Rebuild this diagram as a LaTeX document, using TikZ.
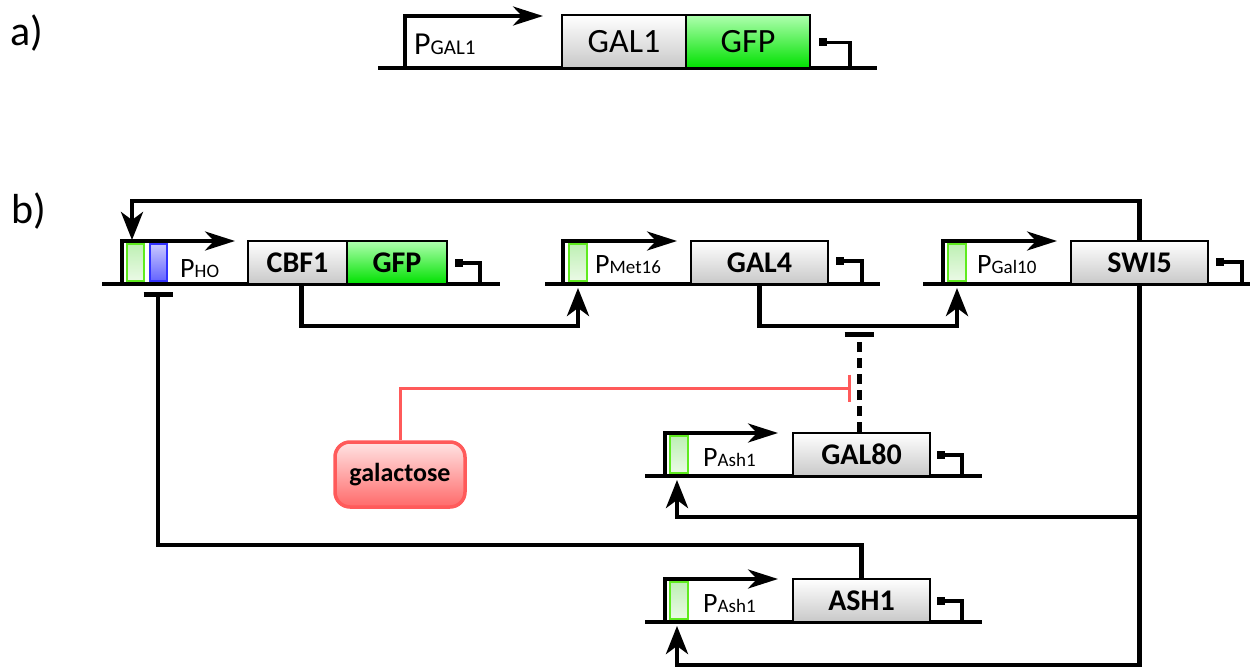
\documentclass[tikz,border=0pt]{standalone}
\usepackage{fontspec}
\setmainfont{Carlito}
\usetikzlibrary{arrows.meta}
\definecolor{boxgray}{RGB}{200,200,200}
\definecolor{gfptop}{RGB}{175,255,175}
\definecolor{gfpbot}{RGB}{0,225,0}
\definecolor{promgreen}{RGB}{95,235,30}
\definecolor{promtop}{RGB}{235,250,230}
\definecolor{prombot}{RGB}{190,240,180}
\definecolor{promblue}{RGB}{50,50,255}
\definecolor{bluetop}{RGB}{200,200,255}
\definecolor{bluebot}{RGB}{100,100,255}
\definecolor{galred}{RGB}{255,90,90}
\definecolor{galtop}{RGB}{255,228,228}
\definecolor{galbot}{RGB}{255,105,105}
\newcommand\genebold{\fontsize{30pt}{32pt}\selectfont\bfseries}
\newcommand\genereg{\fontsize{34pt}{36pt}\selectfont}
\newcommand\promtxt[1]{{\fontsize{28pt}{30pt}\selectfont P}{\fontsize{19pt}{21pt}\selectfont #1}}
\newcommand\mkterm[4]{% x of square, y, x of corner, y of base line
  \fill (#1,#2-4) rectangle (#1+8,#2+4);
  \draw[termline] (#1+7,#2) -- (#3,#2) -- (#3,#4);}
\tikzset{
  dna/.style={line width=4.5pt},
  promarrow/.style={line width=4pt, line join=miter, -{Stealth[length=30pt,width=19pt,inset=9pt]}},
  termline/.style={line width=3.2pt, line join=miter},
  gene/.style={draw, line width=2pt, top color=white, bottom color=boxgray, inner sep=0pt,
    minimum height=43pt, minimum width=137pt, font=\genebold},
  gfpbox/.style={gene, top color=gfptop, bottom color=gfpbot},
  greenbox/.style={draw=promgreen, line width=2.2pt, top color=prombot, bottom color=promtop},
  bluebox/.style={draw=promblue, line width=2.2pt, top color=bluetop, bottom color=bluebot},
  conn/.style={line width=4.5pt, line join=miter, -{Stealth[length=28pt,width=22pt,inset=8pt]}},
  inh/.style={line width=4.5pt, line join=miter, -{Bar[width=29pt]}},
  redinh/.style={draw=galred, line width=3pt, line join=miter, -{Bar[width=27pt]}},
  dashinh/.style={inh, dash pattern=on 10pt off 6pt, line width=5pt},
  label/.style={font=\fontsize{42pt}{44pt}\selectfont, inner sep=0pt},
  promlabel/.style={anchor=base west, inner sep=0pt},
  metab/.style={draw=galred, line width=3.5pt, rounded corners=15pt, top color=galtop,
    bottom color=galbot, minimum width=130pt, minimum height=65pt,
    font=\fontsize{26pt}{28pt}\selectfont\bfseries}
}
\begin{document}
\begin{tikzpicture}[x=1pt,y=-1pt]
\useasboundingbox[fill=white] (0,0) rectangle (1255,668);

% ---------------- a) ----------------
\node[label] (la) at (27,33) {a)};
\draw[dna] (378,68) -- (877,68);
\draw[promarrow] (405,68) -- (405,16) -- (543,16);
\node[promlabel] (pgal1) at (414,55) {{\fontsize{32pt}{34pt}\selectfont P}{\fontsize{21pt}{23pt}\selectfont GAL1}};
\node[gene, font=\genereg, minimum width=124pt, minimum height=53pt] (gal1) at (624,41.5) {GAL1};
\node[gfpbox, font=\genereg, minimum width=124pt, minimum height=53pt] (gfpa) at (748,41.5) {GFP};
\mkterm{819}{42.5}{850}{68}

% ---------------- b) ----------------
\node[label] (lb) at (29,211) {b)};

% row 1 : P_HO - CBF1 - GFP
\draw[dna] (102,284) -- (500,284);
\draw[promarrow] (122,284) -- (122,241) -- (235,241);
\draw[greenbox] (127,244) rectangle (144,281);
\draw[bluebox] (150,244) rectangle (167,281);
\node[promlabel] (tho) at (180,277) {\promtxt{HO}};
\node[gene, minimum width=99pt] (cbf1) at (297.5,262.5) {CBF1};
\node[gfpbox, minimum width=100pt] (gfpb) at (397,262.5) {GFP};
\mkterm{455}{263}{480}{284}
\coordinate (pho) at (132,240);
\coordinate (phobar) at (158,292);

% row 1 : P_Met16 - GAL4
\draw[dna] (545,284) -- (880,284);
\draw[promarrow] (563,284) -- (563,241) -- (677,241);
\draw[greenbox] (569,244) rectangle (587,281);
\node[promlabel] (tmet) at (595,273) {\promtxt{Met16}};
\node[gene] (gal4) at (759.5,262.5) {GAL4};
\mkterm{836}{261}{862}{284}
\coordinate (pmet) at (578,288);
\coordinate (gal4bar) at (859,332);

% row 1 : P_Gal10 - SWI5
\draw[dna] (923,284) -- (1250,284);
\draw[promarrow] (943,284) -- (943,241) -- (1057,241);
\draw[greenbox] (948,244) rectangle (966,281);
\node[promlabel] (tgal10) at (977,273) {\promtxt{Gal10}};
\node[gene] (swi5) at (1139.5,262.5) {SWI5};
\mkterm{1216}{262}{1242}{284}
\coordinate (pgal10) at (957,288);

% row 2 : P_Ash1 - GAL80
\draw[dna] (645,476) -- (982,476);
\draw[promarrow] (665,476) -- (665,433) -- (778,433);
\draw[greenbox] (670,436) rectangle (688,473);
\node[promlabel] (tash1a) at (703,466) {\promtxt{Ash1}};
\node[gene] (gal80) at (861.5,454.5) {GAL80};
\mkterm{937}{455}{962}{476}
\coordinate (pash1a) at (677,480);

% row 3 : P_Ash1 - ASH1
\draw[dna] (645,622) -- (982,622);
\draw[promarrow] (665,622) -- (665,579) -- (778,579);
\draw[greenbox] (670,582) rectangle (688,619);
\node[promlabel] (tash1b) at (703,612) {\promtxt{Ash1}};
\node[gene] (ash1) at (861.5,600.5) {ASH1};
\mkterm{937}{601}{962}{622}
\coordinate (pash1b) at (677,626);

% galactose
\node[metab] (galac) at (400,474.5) {galactose};
\coordinate (redbar) at (851,388);

% ---------------- connectors ----------------
\draw[conn] (swi5.north) -- ++(0,-39) -| (pho);
\draw[conn] (swi5.south) -- (1139.5,665) -| (pash1b);
\draw[conn] (1139.5,517) -| (pash1a);
\draw[conn] ([xshift=4pt]cbf1.south) -- ++(0,41) -| (pmet);
\draw[conn] (gal4.south) -- ++(0,41) -| (pgal10);
\draw[inh] (ash1.north) -- ++(0,-33) -| (phobar);
\draw[dashinh] (gal80.north -| gal4bar) -- (gal4bar);
\draw[redinh] (galac.north) |- (redbar);
\end{tikzpicture}
\end{document}
